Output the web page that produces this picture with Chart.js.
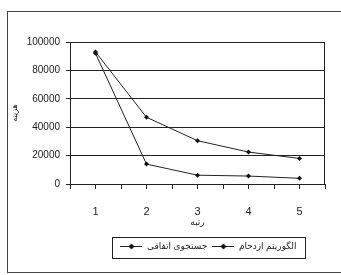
<!DOCTYPE html>
<html><head><meta charset="utf-8">
<script src="https://cdn.jsdelivr.net/npm/chart.js@4/dist/chart.umd.min.js"></script>
<style>html,body{margin:0;padding:0;background:#fff}#w{width:341px;height:275px}</style>
</head><body><div id="w"><canvas id="c" width="341" height="275"></canvas></div>
<script>
const categories = ['1','2','3','4','5'];
const seriesNames = ['جستجوی اتفاقی','الگوریتم ازدحام'];
const randomSearch = [93000, 47000, 30500, 22500, 18000];
const swarm = [92000, 14000, 6200, 5600, 4000];
const yTicks = [0, 20000, 40000, 60000, 80000, 100000];
const xTitle = 'رتبه';
const yTitle = 'هزینه';

const FONT = "'Liberation Sans', Arial, 'DejaVu Sans', sans-serif";

function legendIcon(){
  const c = document.createElement('canvas');
  c.width = 22; c.height = 7;
  const g = c.getContext('2d');
  g.strokeStyle = '#222'; g.lineWidth = 1;
  g.beginPath(); g.moveTo(0,3.5); g.lineTo(22,3.5); g.stroke();
  g.fillStyle = '#111';
  g.beginPath(); g.moveTo(11,0.5); g.lineTo(14,3.5); g.lineTo(11,6.5); g.lineTo(8,3.5); g.closePath(); g.fill();
  return c;
}
const icon = legendIcon();

const toPts = arr => arr.map((v,i)=>({x: i+1, y: v}));

const framePlugin = {
  id:'frame',
  beforeLayout(chart){
    const l = chart.legend;
    if (l && !l._patched){
      const f = l.fit;
      l.fit = function(){ f.call(this); this.height = 47; };
      l._patched = true;
    }
  },
  afterLayout(chart){
    const l = chart.legend;
    const dx = 208.5 - (l.left + l.right)/2;
    l.left += dx; l.right += dx;
    l.top = 237; l.bottom = 258; l.height = 21;
  },
  beforeDraw(chart){
    const ctx = chart.ctx;
    ctx.save();
    ctx.strokeStyle = '#444'; ctx.lineWidth = 1;
    ctx.strokeRect(7.5, 11.5, 345, 261);
    ctx.restore();
  },
  afterDraw(chart){
    const ctx = chart.ctx, a = chart.chartArea;
    ctx.save();
    ctx.strokeStyle = '#222'; ctx.lineWidth = 1;
    ctx.beginPath(); ctx.moveTo(Math.round(a.right)-0.5, a.top); ctx.lineTo(Math.round(a.right)-0.5, a.bottom); ctx.stroke();
    ctx.strokeRect(112.5, 237.5, 193, 21);
    ctx.restore();
  }
};

new Chart(document.getElementById('c'), {
  type:'line',
  data:{
    datasets:[
      {label: seriesNames[0], data: toPts(randomSearch), borderColor:'#222', backgroundColor:'#111', borderWidth:1, pointStyle:'rectRot', pointRadius:2.5, pointBorderWidth:0, tension:0},
      {label: seriesNames[1], data: toPts(swarm), borderColor:'#222', backgroundColor:'#111', borderWidth:1, pointStyle:'rectRot', pointRadius:2.5, pointBorderWidth:0, tension:0}
    ]
  },
  options:{
    responsive:false, animation:false, devicePixelRatio:1,
    layout:{padding:{left:10, top:42, right:7, bottom:0}},
    plugins:{
      tooltip:{enabled:false},
      legend:{
        position:'bottom', align:'center',
        labels:{
          font:{family:FONT, size:9}, color:'#222', padding:5,
          usePointStyle:true, pointStyleWidth:22, boxHeight:7,
          generateLabels(chart){
            return chart.data.datasets.map((d,i)=>({text:d.label, pointStyle:icon, datasetIndex:i, fontColor:'#222', hidden:false, lineWidth:0, strokeStyle:'transparent', fillStyle:'transparent'}));
          }
        }
      }
    },
    scales:{
      x:{
        type:'linear', min:0.5, max:5.5,
        afterFit(s){ s.height = 44; },
        ticks:{stepSize:0.5, autoSkip:false, maxRotation:0, padding:16, color:'#222', font:{family:FONT, size:11},
          callback(v){ return Number.isInteger(v) ? categories[v-1] : ''; }},
        grid:{drawOnChartArea:false, drawTicks:true, tickLength:5, color:'#222'},
        border:{color:'#222'},
        title:{display:true, text:xTitle, color:'#222', font:{family:FONT, size:9}, padding:0}
      },
      y:{
        min:0, max:100000,
        afterFit(s){ s.width = 60; },
        afterBuildTicks(s){ s.ticks = yTicks.map(v=>({value:v})); },
        ticks:{color:'#222', font:{family:FONT, size:10}, padding:6, callback(v){ return String(v); }},
        grid:{color:'#222', tickLength:4},
        border:{color:'#222'},
        title:{display:true, text:yTitle, color:'#222', font:{family:FONT, size:8}, padding:0}
      }
    }
  },
  plugins:[framePlugin]
});
</script></body></html>
